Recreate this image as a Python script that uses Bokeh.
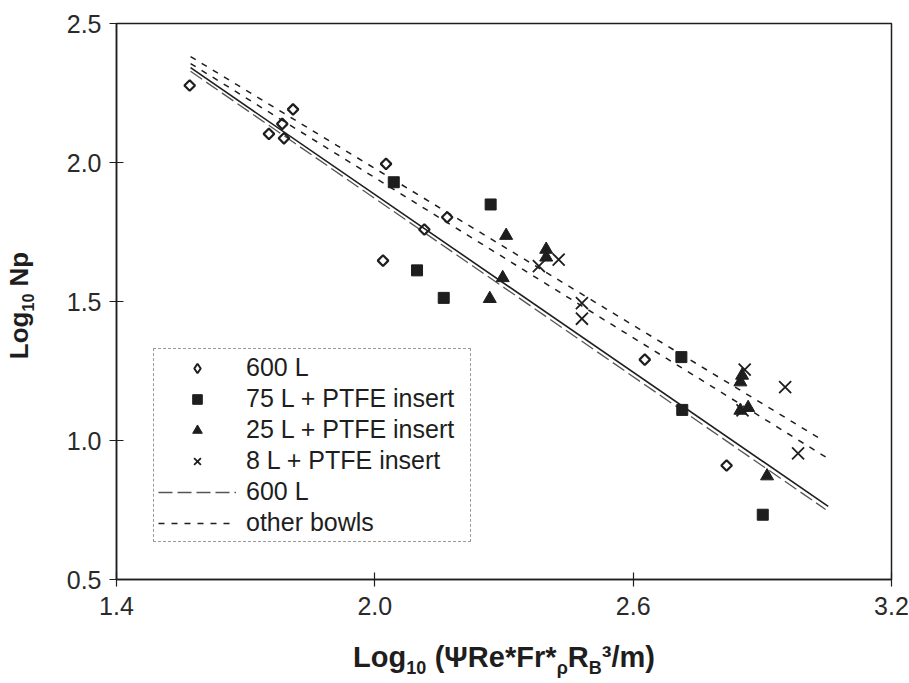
import math
from bokeh.plotting import figure
from bokeh.models import (Range1d, FixedTicker, PrintfTickFormatter, Legend, LegendItem,
                          LinearAxis)
from bokeh.embed import file_html
from bokeh.resources import INLINE

# ---- data ----
x_ticks = [1.4, 2.0, 2.6, 3.2]
y_ticks = [0.5, 1.0, 1.5, 2.0, 2.5]

x_600 = [1.570, 1.754, 1.785, 1.789, 1.810, 2.026, 2.019, 2.115, 2.168, 2.627, 2.817]
y_600 = [2.277, 2.103, 2.139, 2.087, 2.191, 1.995, 1.647, 1.759, 1.803, 1.291, 0.910]

x_75 = [2.044, 2.269, 2.098, 2.160, 2.712, 2.714, 2.901]
y_75 = [1.929, 1.849, 1.612, 1.513, 1.300, 1.110, 0.733]

x_25 = [2.305, 2.398, 2.398, 2.297, 2.267, 2.849, 2.853, 2.849, 2.867, 2.911]
y_25 = [1.737, 1.687, 1.659, 1.585, 1.510, 1.210, 1.234, 1.108, 1.118, 0.872]

x_8 = [2.381, 2.427, 2.481, 2.481, 2.859, 2.953, 2.983, 2.854]
y_8 = [1.627, 1.651, 1.494, 1.438, 1.255, 1.192, 0.954, 1.108]

fit600_x = [1.572, 3.053]
fit600_y = [2.341, 0.763]
fit600b_x = [1.572, 3.047]
fit600b_y = [2.328, 0.752]
other_up_x = [1.572, 3.041]
other_up_y = [2.381, 1.000]
other_lo_x = [1.572, 3.054]
other_lo_y = [2.356, 0.934]

legend_labels = ["600 L", "75 L + PTFE insert", "25 L + PTFE insert",
                 "8 L + PTFE insert", "600 L", "other bowls"]

# axis-title pieces: (text, "B" big / "S" small-subscript / "G" gap)
x_title = [("Log", "B"), ("10", "S"), (" ", "G"), ("(ΨRe*Fr*", "B"), ("ρ", "S"),
           ("R", "B"), ("B", "S"), ("³/m)", "B")]
y_title = [("Log", "B"), ("10", "S"), (" ", "G"), ("Np", "B")]

FONT = "Liberation Sans"
INK = "#1e1e1e"

# geometry of the plot frame (pixels)
L, R, T, B = 116, 18, 23, 104
FW, FH = 909 - L - R, 683 - T - B
X0, X1, Y0, Y1 = 1.4, 3.2, 0.5, 2.5

p = figure(width=909, height=683, output_backend="svg", toolbar_location=None,
           x_range=Range1d(X0, X1), y_range=Range1d(Y0, Y1),
           min_border_left=L, min_border_right=R, min_border_top=T,
           min_border_bottom=B)
p.background_fill_color = "white"
p.border_fill_color = "white"
p.outline_line_color = INK
p.outline_line_width = 1.5
p.xgrid.visible = False
p.ygrid.visible = False

for ax, ticks in ((p.xaxis, x_ticks), (p.yaxis, y_ticks)):
    ax.ticker = FixedTicker(ticks=ticks)
    ax.formatter = PrintfTickFormatter(format="%.1f")
    ax.minor_tick_line_color = None
    ax.axis_line_color = INK
    ax.axis_line_width = 1.5
    ax.major_tick_line_color = INK
    ax.major_tick_line_width = 1.2
    ax.major_tick_in = 7
    ax.major_tick_out = 7
    ax.major_label_text_font = FONT
    ax.major_label_text_font_size = "25px"
    ax.major_label_text_color = "#2a2a2a"
p.xaxis.major_label_standoff = 10
p.yaxis.major_label_standoff = 8

# ---- lines ----
r_fit = p.line(fit600_x, fit600_y, line_color=INK, line_width=1.6)
r_fitb = p.line(fit600b_x, fit600b_y, line_color="#555555", line_width=1.3,
                line_dash="14 5")
r_up = p.line(other_up_x, other_up_y, line_color=INK, line_width=1.5, line_dash="6 7")
r_lo = p.line(other_lo_x, other_lo_y, line_color=INK, line_width=1.5, line_dash="6 7")

# ---- markers ----
r600 = p.scatter(x_600, y_600, marker="square", angle=math.pi / 4, size=7.5,
                 fill_color=None, line_color=INK, line_width=2.2)
# legend-only twin (the legend does not rotate markers)
r600_leg = p.scatter(x_600, y_600, marker="diamond", size=11, fill_color=None,
                     line_color=INK, line_width=2, visible=False)
r75 = p.scatter(x_75, y_75, marker="square", size=11, fill_color=INK, line_color=INK)
r25 = p.scatter(x_25, y_25, marker="triangle", size=13, fill_color=INK, line_color=INK)
r8 = p.scatter(x_8, y_8, marker="x", size=17, line_color=INK, line_width=1.8)

legend = Legend(items=[
    LegendItem(label=legend_labels[0], renderers=[r600_leg]),
    LegendItem(label=legend_labels[1], renderers=[r75]),
    LegendItem(label=legend_labels[2], renderers=[r25]),
    LegendItem(label=legend_labels[3], renderers=[r8]),
    LegendItem(label=legend_labels[4], renderers=[r_fitb]),
    LegendItem(label=legend_labels[5], renderers=[r_up]),
], location=(37, 37), orientation="vertical")
legend.label_text_font = FONT
legend.label_text_font_size = "25px"
legend.label_text_color = INK
legend.glyph_width = 78
legend.glyph_height = 24
legend.label_height = 24
legend.label_width = 220
legend.label_standoff = 10
legend.spacing = 2
legend.padding = 4
legend.margin = 0
legend.border_line_color = "#3a3a3a"
legend.border_line_width = 1.2
legend.border_line_dash = "8 2 2 2"
legend.background_fill_color = "white"
legend.background_fill_alpha = 1.0
p.add_layout(legend, "center")

# ---- axis titles built from extra (invisible) axes so sub-scripts can be placed ----
WB = {' ': 278, '(': 333, ')': 333, '*': 389, '/': 278, 'L': 611, 'o': 611,
      'g': 611, 'N': 722, 'p': 611, 'R': 722, 'e': 556, 'F': 611, 'r': 389,
      'm': 889, 'B': 722, 'Ψ': 834, 'ρ': 611, '³': 333}


def tw(s, size):
    return sum(WB.get(c, 556) for c in s) * size / 1000.0


def piece_centres(pieces, big, small):
    out, cum = [], 0.0
    for t, kind in pieces:
        w = tw(t, small if kind == "S" else big)
        out.append((t, kind, cum + w / 2.0))
        cum += w
    return out, cum


def title_axis(side, font_px, standoff, labels):
    ax = LinearAxis(axis_label=None)
    ticks = sorted(labels.keys())
    ax.ticker = FixedTicker(ticks=ticks)
    ax.major_label_overrides = {k: v for k, v in labels.items()}
    ax.axis_line_color = None
    ax.major_tick_line_color = None
    ax.minor_tick_line_color = None
    ax.major_tick_in = 0
    ax.major_tick_out = 0
    ax.major_label_standoff = standoff
    ax.major_label_text_font = FONT
    ax.major_label_text_font_size = f"{font_px}px"
    ax.major_label_text_font_style = "bold"
    ax.major_label_text_color = INK
    if side == "left":
        ax.major_label_orientation = "vertical"
    p.add_layout(ax, side)


# x title
XB, XS = 29, 18
cents, total = piece_centres(x_title, XB, XS)
start = L + FW / 2.0 - total / 2.0
big_lab, small_lab = {}, {}
for t, kind, c in cents:
    if kind == "G":
        continue
    xv = round(X0 + (start + c - L) / FW * (X1 - X0), 5)
    (small_lab if kind == "S" else big_lab)[xv] = t
title_axis("below", XB, 23, big_lab)
title_axis("below", XS, -18, small_lab)

# y title (reads bottom to top)
YB, YS = 26, 16
cents, total = piece_centres(y_title, YB, YS)
start = T + FH / 2.0 + 4 + total / 2.0   # canvas y of the text start (bottom)
big_lab, small_lab = {}, {}
for t, kind, c in cents:
    if kind == "G":
        continue
    yv = round(Y0 + ((T + FH) - (start - c)) / FH * (Y1 - Y0), 5)
    (small_lab if kind == "S" else big_lab)[yv] = t
title_axis("left", YB, 29, big_lab)
title_axis("left", YS, -33, small_lab)

open("out.html", "w").write(file_html(p, INLINE))
